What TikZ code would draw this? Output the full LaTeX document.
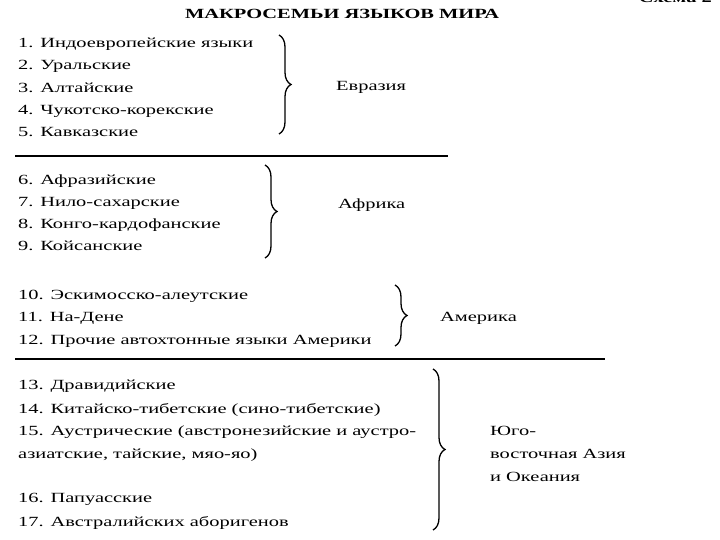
\documentclass[tikz,border=0pt]{standalone}
\usepackage{fontspec}
\setmainfont{Liberation Serif}[FakeStretch=1.46]
\usetikzlibrary{decorations.pathreplacing}
\begin{document}
\begin{tikzpicture}[x=1pt,y=-1pt,
  item/.style={anchor=base west, inner sep=0pt, font=\fontsize{14}{16}\selectfont},
  region/.style={anchor=base west, inner sep=0pt, font=\fontsize{14}{16}\selectfont},
  rule/.style={line width=1.8pt},
  bigbrace/.style={decorate, decoration={brace, amplitude=12pt}, line width=1.3pt}]
\useasboundingbox (0,0) rectangle (720,540);
\fill[white] (0,0) rectangle (720,540);
% header
\node[anchor=base east, inner sep=0pt, font=\fontsize{14}{16}\selectfont\bfseries] (corner) at (712,3) {Схема 2};
\node[anchor=base, inner sep=0pt, font=\fontsize{14}{16}\selectfont\bfseries] (title) at (342,19) {МАКРОСЕМЬИ ЯЗЫКОВ МИРА};
% group 1
\node[item] (i1) at (18,48) {1. Индоевропейские языки};
\node[item] (i2) at (18,70) {2. Уральские};
\node[item] (i3) at (18,93) {3. Алтайские};
\node[item] (i4) at (18,115) {4. Чукотско-корекские};
\node[item] (i5) at (18,137) {5. Кавказские};
\coordinate (b1a) at (279,35);
\coordinate (b1b) at (279,134);
\draw[bigbrace] (b1a) -- (b1b);
\node[region] (r1) at (336,91) {Евразия};
\draw[rule] (15,156) -- (448,156);
% group 2
\node[item] (i6) at (18,185) {6. Афразийские};
\node[item] (i7) at (18,207) {7. Нило-сахарские};
\node[item] (i8) at (18,229) {8. Конго-кардофанские};
\node[item] (i9) at (18,251) {9. Койсанские};
\coordinate (b2a) at (265,165);
\coordinate (b2b) at (265,258);
\draw[bigbrace] (b2a) -- (b2b);
\node[region] (r2) at (338,208) {Африка};
% group 3
\node[item] (i10) at (18,299) {10. Эскимосско-алеутские};
\node[item] (i11) at (18,321) {11. На-Дене};
\node[item] (i12) at (18,344) {12. Прочие автохтонные языки Америки};
\coordinate (b3a) at (395,285);
\coordinate (b3b) at (395,346);
\draw[bigbrace] (b3a) -- (b3b);
\node[region] (r3) at (440,321) {Америка};
\draw[rule] (15,359) -- (605,359);
% group 4
\node[item] (i13) at (18,389) {13. Дравидийские};
\node[item] (i14) at (18,413) {14. Китайско-тибетские (сино-тибетские)};
\node[item] (i15) at (18,435) {15. Аустрические (австронезийские и аустро-};
\node[item] (i15b) at (18,458) {азиатские, тайские, мяо-яо)};
\node[item] (i16) at (18,502) {16. Папуасские};
\node[item] (i17) at (18,526) {17. Австралийских аборигенов};
\coordinate (b4a) at (433,369);
\coordinate (b4b) at (433,530);
\draw[bigbrace] (b4a) -- (b4b);
\node[region] (r4a) at (490,435) {Юго-};
\node[region] (r4b) at (490,458) {восточная Азия};
\node[region] (r4c) at (490,481) {и Океания};
\end{tikzpicture}
\end{document}
